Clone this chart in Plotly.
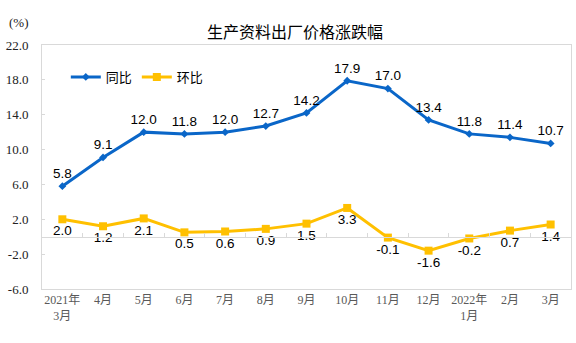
import plotly.graph_objects as go

months = ["2021年<br>3月", "4月", "5月", "6月", "7月", "8月", "9月", "10月",
          "11月", "12月", "2022年<br>1月", "2月", "3月"]
yoy = [5.8, 9.1, 12.0, 11.8, 12.0, 12.7, 14.2, 17.9, 17.0, 13.4, 11.8, 11.4, 10.7]
mom = [2.0, 1.2, 2.1, 0.5, 0.6, 0.9, 1.5, 3.3, -0.1, -1.6, -0.2, 0.7, 1.4]
ytick_vals = [-6, -2, 2, 6, 10, 14, 18, 22]

BLUE = "#0A66C8"
YELLOW = "#FFC000"
SANS = "Liberation Sans, Arial, Noto Sans CJK SC"
SERIF = "Liberation Serif, Noto Sans CJK SC"
CJK = "Noto Sans CJK SC"

fig = go.Figure()
fig.add_trace(go.Scatter(
    x=months, y=yoy, name="同比", mode="lines+markers+text",
    line=dict(color=BLUE, width=3),
    marker=dict(symbol="diamond", size=6, color=BLUE),
    texttemplate="%{y:.1f}", textposition="top center",
    textfont=dict(family=SANS, size=13.5, color="#000000"),
))
fig.add_trace(go.Scatter(
    x=months, y=mom, name="环比", mode="lines+markers+text",
    line=dict(color=YELLOW, width=3),
    marker=dict(symbol="square", size=8, color=YELLOW),
    texttemplate="%{y:.1f}", textposition="bottom center",
    textfont=dict(family=SANS, size=13.5, color="#000000"),
))
# invisible trace to carry the zero-line axis with tick marks
fig.add_trace(go.Scatter(x=months, y=[0] * len(months), xaxis="x2", mode="none",
                         showlegend=False, hoverinfo="skip"))

lo, hi = -6, 22
fig.update_layout(
    width=576, height=343,
    margin=dict(l=42, r=5, t=45, b=54),
    paper_bgcolor="white", plot_bgcolor="white",
    title=dict(text="生产资料出厂价格涨跌幅", x=0.512, xanchor="center",
               y=1 - 32 / 343, yanchor="middle",
               font=dict(family=CJK, size=16, color="#000000")),
    showlegend=True,
    legend=dict(orientation="h", x=0.045, y=0.869, xanchor="left", yanchor="middle",
                bgcolor="rgba(0,0,0,0)", font=dict(family=CJK, size=13, color="#000000"),
                itemwidth=30, tracegroupgap=0),
    xaxis=dict(type="category", categoryorder="array", categoryarray=months,
               range=[-0.5, len(months) - 0.5],
               showline=True, linecolor="#d9d9d9", linewidth=1, mirror=True,
               ticks="", showgrid=False, zeroline=False,
               tickfont=dict(family=SERIF, size=12, color="#595959")),
    xaxis2=dict(type="category", categoryorder="array", categoryarray=months,
                range=[-0.5, len(months) - 0.5], overlaying="x", anchor="free",
                position=(0 - lo) / (hi - lo),
                showline=True, linecolor="#d9d9d9", linewidth=1,
                ticks="inside", tickson="boundaries", ticklen=4, tickcolor="#d9d9d9",
                showticklabels=False, showgrid=False, zeroline=False),
    yaxis=dict(range=[lo, hi], tickvals=ytick_vals,
               ticktext=[f"{v:.1f}" for v in ytick_vals],
               showline=True, linecolor="#d9d9d9", linewidth=1, mirror=True,
               ticks="inside", ticklen=3, tickcolor="#d9d9d9",
               ticklabelstandoff=10,
               showgrid=False, zeroline=False,
               tickfont=dict(family=SERIF, size=13, color="#222222")),
    annotations=[dict(text="(%)", xref="paper", yref="paper",
                      x=(19 - 42) / 529, y=(289 - 22) / 244,
                      xanchor="center", yanchor="middle", showarrow=False,
                      font=dict(family=SERIF, size=13, color="#222222"))],
)

fig.write_html("out.html")
